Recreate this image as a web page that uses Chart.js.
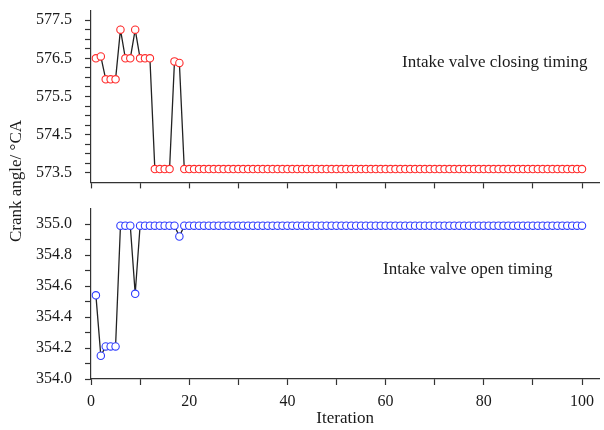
<!DOCTYPE html>
<html>
<head>
<meta charset="utf-8">
<script src="https://cdn.jsdelivr.net/npm/chart.js@4/dist/chart.umd.min.js"></script>
<style>
  html, body { margin: 0; padding: 0; background: #fff; }
  #wrap { position: relative; width: 604px; height: 430px; overflow: hidden; font-family: "Liberation Serif", "Times New Roman", serif; }
  #topBox { position: absolute; left: 0; top: -12px; width: 604px; height: 217px; }
  #botBox { position: absolute; left: 0; top: 186px; width: 604px; height: 244px; }
  .note { position: absolute; font-size: 17px; line-height: 20px; color: #1a1a1a; white-space: nowrap; }
  #yTitle { position: absolute; left: -84px; top: 171px; width: 200px; text-align: center; font-size: 17px; line-height: 20px; color: #1a1a1a; transform: rotate(-90deg); }
</style>
</head>
<body>
<div id="wrap">
  <div id="topBox"><canvas id="chartTop"></canvas></div>
  <div id="botBox"><canvas id="chartBottom"></canvas></div>
  <div class="note" style="left:402px; top:52px;">Intake valve closing timing</div>
  <div class="note" style="left:383px; top:259px;">Intake valve open timing</div>
  <div id="yTitle">Crank angle/ °CA</div>
</div>
<script>
// iteration number of each point
const iterations = [
  1, 2, 3, 4, 5, 6, 7, 8, 9, 10,
  11, 12, 13, 14, 15, 16, 17, 18, 19, 20,
  21, 22, 23, 24, 25, 26, 27, 28, 29, 30,
  31, 32, 33, 34, 35, 36, 37, 38, 39, 40,
  41, 42, 43, 44, 45, 46, 47, 48, 49, 50,
  51, 52, 53, 54, 55, 56, 57, 58, 59, 60,
  61, 62, 63, 64, 65, 66, 67, 68, 69, 70,
  71, 72, 73, 74, 75, 76, 77, 78, 79, 80,
  81, 82, 83, 84, 85, 86, 87, 88, 89, 90,
  91, 92, 93, 94, 95, 96, 97, 98, 99, 100
];

// intake valve closing timing (°CA)
const closingTiming = [
  576.5, 576.55, 575.95, 575.95, 575.95, 577.25, 576.5, 576.5, 577.25, 576.5,
  576.5, 576.5, 573.6, 573.6, 573.6, 573.6, 576.42, 576.38, 573.6, 573.6,
  573.6, 573.6, 573.6, 573.6, 573.6, 573.6, 573.6, 573.6, 573.6, 573.6,
  573.6, 573.6, 573.6, 573.6, 573.6, 573.6, 573.6, 573.6, 573.6, 573.6,
  573.6, 573.6, 573.6, 573.6, 573.6, 573.6, 573.6, 573.6, 573.6, 573.6,
  573.6, 573.6, 573.6, 573.6, 573.6, 573.6, 573.6, 573.6, 573.6, 573.6,
  573.6, 573.6, 573.6, 573.6, 573.6, 573.6, 573.6, 573.6, 573.6, 573.6,
  573.6, 573.6, 573.6, 573.6, 573.6, 573.6, 573.6, 573.6, 573.6, 573.6,
  573.6, 573.6, 573.6, 573.6, 573.6, 573.6, 573.6, 573.6, 573.6, 573.6,
  573.6, 573.6, 573.6, 573.6, 573.6, 573.6, 573.6, 573.6, 573.6, 573.6
];

// intake valve open timing (°CA)
const openTiming = [
  354.54, 354.15, 354.21, 354.21, 354.21, 354.99, 354.99, 354.99, 354.55, 354.99,
  354.99, 354.99, 354.99, 354.99, 354.99, 354.99, 354.99, 354.92, 354.99, 354.99,
  354.99, 354.99, 354.99, 354.99, 354.99, 354.99, 354.99, 354.99, 354.99, 354.99,
  354.99, 354.99, 354.99, 354.99, 354.99, 354.99, 354.99, 354.99, 354.99, 354.99,
  354.99, 354.99, 354.99, 354.99, 354.99, 354.99, 354.99, 354.99, 354.99, 354.99,
  354.99, 354.99, 354.99, 354.99, 354.99, 354.99, 354.99, 354.99, 354.99, 354.99,
  354.99, 354.99, 354.99, 354.99, 354.99, 354.99, 354.99, 354.99, 354.99, 354.99,
  354.99, 354.99, 354.99, 354.99, 354.99, 354.99, 354.99, 354.99, 354.99, 354.99,
  354.99, 354.99, 354.99, 354.99, 354.99, 354.99, 354.99, 354.99, 354.99, 354.99,
  354.99, 354.99, 354.99, 354.99, 354.99, 354.99, 354.99, 354.99, 354.99, 354.99
];

const xTicks = [0, 10, 20, 30, 40, 50, 60, 70, 80, 90, 100];
const xLabels = ['0', '', '20', '', '40', '', '60', '', '80', '', '100'];

Chart.defaults.font.family = '"Liberation Serif", "Times New Roman", serif';
Chart.defaults.font.size = 16;
Chart.defaults.color = '#1a1a1a';

const axisColor = '#333';

function toPoints(values) {
  return values.map((v, i) => ({ x: iterations[i], y: v }));
}

function xAxis(showLabels, height) {
  return {
    type: 'linear',
    min: 0,
    max: 103.5,
    afterBuildTicks: (scale) => { scale.ticks = xTicks.map(v => ({ value: v })); },
    afterFit: (scale) => { scale.height = height; },
    border: { display: true, color: axisColor, width: 1.2 },
    grid: { drawOnChartArea: false, drawTicks: true, tickLength: 6, color: axisColor, tickColor: axisColor, tickWidth: 1.2 },
    ticks: {
      display: showLabels,
      padding: 7,
      maxRotation: 0,
      autoSkip: false,
      callback: (v, i) => xLabels[i]
    },
    title: showLabels ? { display: true, text: 'Iteration', font: { size: 17 }, padding: { top: 0, bottom: 1 } } : { display: false }
  };
}

function yAxis(min, max, tickValues, labelFn) {
  return {
    type: 'linear',
    min: min,
    max: max,
    afterBuildTicks: (scale) => { scale.ticks = tickValues.map(v => ({ value: v })); },
    afterFit: (scale) => { scale.width = 91; },
    border: { display: true, color: axisColor, width: 1.2 },
    grid: { drawOnChartArea: false, drawTicks: true, tickLength: 6, color: axisColor, tickColor: axisColor, tickWidth: 1.2 },
    ticks: { padding: 13, autoSkip: false, callback: labelFn }
  };
}

// y tick positions (every 0.25 / 0.1), labels only on the major ones
const topYTicks = [573.5, 573.75, 574, 574.25, 574.5, 574.75, 575, 575.25, 575.5, 575.75, 576, 576.25, 576.5, 576.75, 577, 577.25, 577.5];
const topYLabels = ['573.5', '', '', '', '574.5', '', '', '', '575.5', '', '', '', '576.5', '', '', '', '577.5'];
const botYTicks = [354.0, 354.1, 354.2, 354.3, 354.4, 354.5, 354.6, 354.7, 354.8, 354.9, 355.0];
const botYLabels = ['354.0', '', '354.2', '', '354.4', '', '354.6', '', '354.8', '', '355.0'];

function seriesDataset(values, color) {
  return {
    data: toPoints(values),
    borderColor: '#222',
    borderWidth: 1.3,
    tension: 0,
    pointStyle: 'circle',
    pointRadius: 3.7,
    pointBorderWidth: 1.1,
    pointBorderColor: color,
    pointBackgroundColor: '#fff',
    pointHoverRadius: 3.7
  };
}

const commonOptions = {
  responsive: true,
  maintainAspectRatio: false,
  animation: false,
  plugins: { legend: { display: false }, tooltip: { enabled: false } }
};

new Chart(document.getElementById('chartTop').getContext('2d'), {
  type: 'line',
  data: { datasets: [seriesDataset(closingTiming, '#ff2a2a')] },
  options: {
    ...commonOptions,
    layout: { padding: { left: 0, right: 1, top: 10, bottom: 0 } },
    scales: {
      x: xAxis(false, 16),
      y: yAxis(573.25, 577.75, topYTicks, (v, i) => topYLabels[i])
    }
  }
});

new Chart(document.getElementById('chartBottom').getContext('2d'), {
  type: 'line',
  data: { datasets: [seriesDataset(openTiming, '#2f3cff')] },
  options: {
    ...commonOptions,
    layout: { padding: { left: 0, right: 1, top: 10, bottom: 0 } },
    scales: {
      x: xAxis(true, 51),
      y: yAxis(354.0, 355.1, botYTicks, (v, i) => botYLabels[i])
    }
  }
});
</script>
</body>
</html>
